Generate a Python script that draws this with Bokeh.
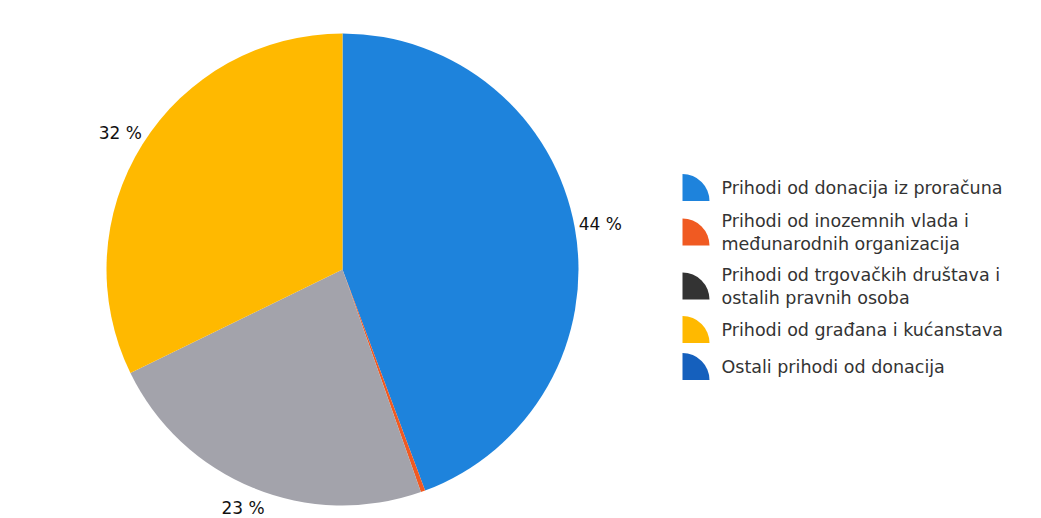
import math
from bokeh.plotting import figure
from bokeh.models import ColumnDataSource, Range1d
from bokeh.core.properties import value
from bokeh.embed import file_html
from bokeh.resources import INLINE

categories = [
    "Prihodi od donacija iz proračuna",
    "Prihodi od inozemnih vlada i\nmeđunarodnih organizacija",
    "Prihodi od trgovačkih društava i\nostalih pravnih osoba",
    "Prihodi od građana i kućanstava",
    "Ostali prihodi od donacija",
]
shares = [44, 0.3, 23, 32, 0]
labels = ["44 %", "", "23 %", "32 %", ""]
slice_colors = ["#1E83DC", "#F05A22", "#A3A3AB", "#FFB900", "#1560BD"]
legend_colors = ["#1E83DC", "#F05A22", "#333333", "#FFB900", "#1560BD"]

W, H = 1041, 518
p = figure(width=W, height=H, output_backend="svg", toolbar_location=None,
           x_range=Range1d(0, W), y_range=Range1d(0, H), min_border=0,
           outline_line_color=None)
p.axis.visible = False
p.grid.visible = False

cx, cy, r = 342, H - 269, 236
total = sum(shares)
starts, ends, lx, ly, cols, labs = [], [], [], [], [], []
cum = 0.0
for s, c, lab in zip(shares, slice_colors, labels):
    if s <= 0:
        continue
    a0 = math.pi / 2 - 2 * math.pi * cum / total
    cum += s
    a1 = math.pi / 2 - 2 * math.pi * cum / total
    starts.append(a0)
    ends.append(a1)
    cols.append(c)
    mid = (a0 + a1) / 2
    lx.append(cx + 262 * math.cos(mid))
    ly.append(cy + 258 * math.sin(mid))
    labs.append(lab)

src = ColumnDataSource(dict(start=starts, end=ends, color=cols))
p.wedge(x=cx, y=cy, radius=r, start_angle="start", end_angle="end",
        direction="clock", color="color", line_color=None, source=src)
p.text(x=lx, y=ly, text=labs, text_font=value("DejaVu Sans"),
       text_font_size="17px", text_align="center", text_baseline="middle",
       text_color="#111111")

# legend
icon_x, icon_r = 682, 27
text_x = 721
row_top = [187, 220, 274, 329, 366]
line_h = 23
ix, iy, ic, tx, ty, tt = [], [], [], [], [], []
for cat, col, y0 in zip(categories, legend_colors, row_top):
    lines = cat.split("\n")
    n = len(lines)
    mid_y = y0 + (n - 1) * line_h / 2
    ix.append(icon_x)
    iy.append(H - (mid_y + icon_r / 2))
    ic.append(col)
    for i, ln in enumerate(lines):
        tx.append(text_x)
        ty.append(H - (y0 + i * line_h))
        tt.append(ln)

p.wedge(x=ix, y=iy, radius=icon_r, radius_units="screen", start_angle=0,
        end_angle=math.pi / 2, color=ic, line_color=None)
p.text(x=tx, y=ty, text=tt, text_font=value("DejaVu Sans"),
       text_font_size="17.5px", text_align="left", text_baseline="middle",
       text_color="#333333")

open("out.html", "w").write(file_html(p, INLINE))
